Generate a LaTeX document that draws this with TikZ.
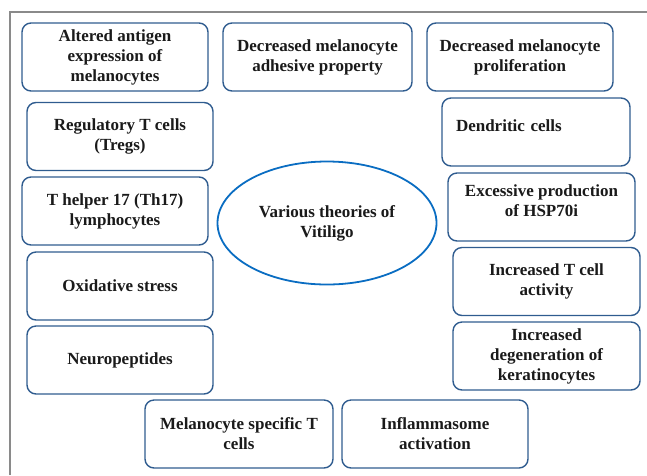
\documentclass[tikz,border=0pt]{standalone}
\usepackage{fontspec}
\setmainfont{Liberation Serif}
\usepackage{xcolor}
\usetikzlibrary{shapes.geometric}
\definecolor{vtBox}{HTML}{2F5C8F}
\definecolor{vtCore}{HTML}{0A6DC2}
\definecolor{vtFrame}{HTML}{8A8A8A}
\definecolor{vtText}{HTML}{1A1A1A}
\tikzset{
  theory/.style={
    draw=vtBox, rounded corners=9pt, line width=1.4pt,
    minimum width=186pt, minimum height=68pt, align=center,
    text=vtText, font=\bfseries\fontsize{17}{20}\selectfont
  },
  core/.style={
    draw=vtCore, ellipse, line width=1.8pt,
    minimum width=219pt, minimum height=123pt, align=center,
    text=vtText, font=\bfseries\fontsize{17}{20}\selectfont
  },
  frame/.style={draw=vtFrame, line width=1.3pt}
}
\begin{document}
\begin{tikzpicture}[x=1pt, y=-1pt]
  \useasboundingbox (0,0) rectangle (647,475);
  \draw[frame] (10,475) -- (10,12) -- (647,12);
  % top row
  \node[theory] (alt) at (115,57) {Altered antigen\\expression of\\melanocytes};
  \node[theory, minimum width=189pt] (adh) at (317.5,57) {Decreased melanocyte\\adhesive property};
  \node[theory] (prol) at (520,57) {Decreased melanocyte\\proliferation};
  % left column
  \node[theory] (treg) at (120,136.5) {Regulatory T cells\\(Tregs)};
  \node[theory] (th17) at (115,211) {T helper 17 (Th17)\\lymphocytes};
  \node[theory] (oxid) at (120,286) {Oxidative stress};
  \node[theory] (neuro) at (120,360) {Neuropeptides};
  % right column
  \node[theory, minimum width=188pt, text width=160pt, align=left, inner xsep=14pt, text depth=13pt] (dend) at (536,132) {Dendritic cells};
  \node[theory, minimum width=187pt, text depth=12pt] (hsp) at (541.5,207) {Excessive production\\of HSP70i};
  \node[theory, minimum width=187pt] (tcell) at (546.5,281.5) {Increased T cell\\activity};
  \node[theory, minimum width=187pt] (kera) at (546.5,356) {Increased\\degeneration of\\keratinocytes};
  % bottom row
  \node[theory, minimum width=188pt] (mst) at (239,434) {Melanocyte specific T\\cells};
  \node[theory] (infl) at (435,434) {Inflammasome\\activation};
  % centre
  \node[core] (vit) at (327,223) {Various theories of\\Vitiligo};
\end{tikzpicture}
\end{document}
